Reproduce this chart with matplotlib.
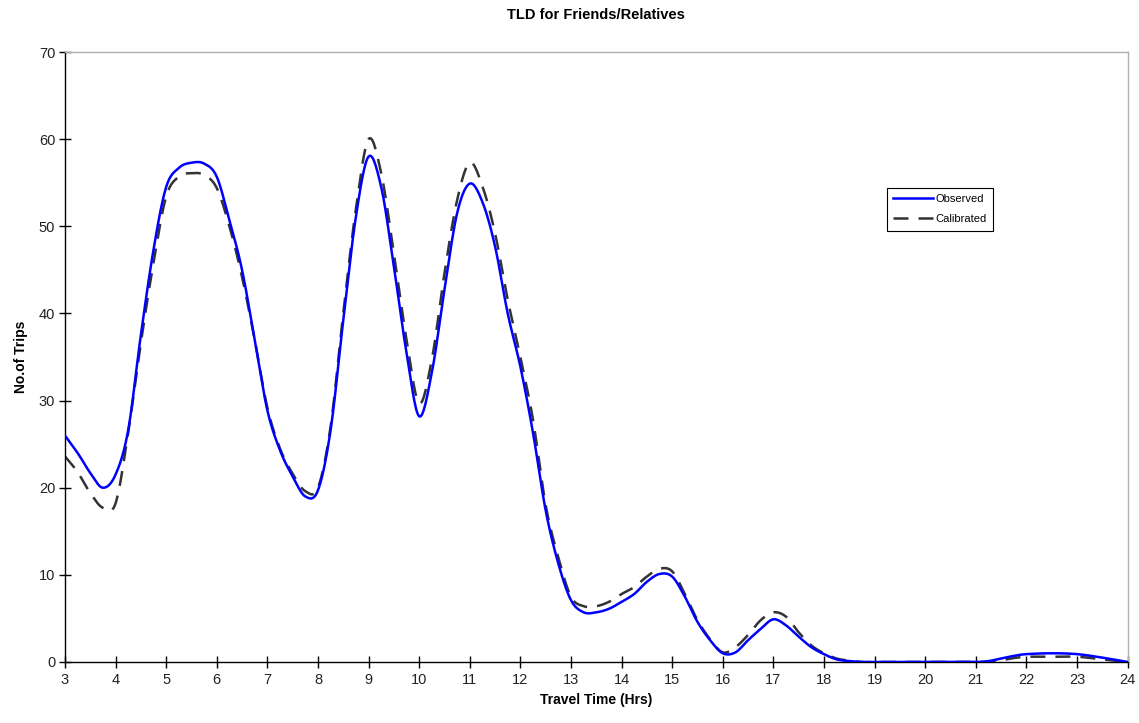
import numpy as np
import matplotlib
matplotlib.use("Agg")
import matplotlib.pyplot as plt

plt.rcParams['font.family'] = ['Liberation Sans', 'DejaVu Sans']

hours = [3.0, 3.25, 3.5, 3.75, 4.0, 4.25, 4.5, 4.75, 5.0, 5.25, 5.5, 5.75,
         6.0, 6.25, 6.5, 6.75, 7.0, 7.25, 7.5, 7.75, 8.0, 8.25, 8.5, 8.75,
         9.0, 9.25, 9.5, 9.75, 10.0, 10.25, 10.5, 10.75, 11.0, 11.25, 11.5, 11.75,
         12.0, 12.25, 12.5, 12.75, 13.0, 13.25, 13.5, 13.75, 14.0, 14.25, 14.5, 14.75,
         15.0, 15.25, 15.5, 15.75, 16.0, 16.25, 16.5, 16.75, 17.0, 17.25, 17.5, 17.75,
         18.0, 18.25, 18.5, 18.75, 19.0, 19.5, 20.0, 20.5, 21.0, 21.25, 21.5, 21.75,
         22.0, 22.5, 23.0, 23.5, 24.0]

observed = [26.0, 24.0, 21.7, 20.0, 21.5, 26.6, 37.5, 47.3, 54.5, 56.7, 57.3, 57.2,
            55.7, 50.7, 45.0, 37.0, 28.9, 24.3, 21.3, 19.0, 19.7, 26.6, 39.2, 51.1,
            58.0, 54.5, 45.4, 35.5, 28.2, 33.2, 42.7, 51.5, 54.9, 52.8, 47.7, 40.0,
            33.9, 26.3, 17.4, 11.3, 7.1, 5.7, 5.7, 6.1, 6.9, 7.8, 9.2, 10.1,
            9.8, 7.5, 4.6, 2.5, 1.0, 1.1, 2.5, 3.8, 4.9, 4.2, 2.9, 1.7,
            0.9, 0.3, 0.1, 0.0, 0.0, 0.0, 0.0, 0.0, 0.0, 0.1, 0.4, 0.7,
            0.9, 1.0, 0.9, 0.5, 0.0]

calibrated = [23.6, 21.8, 19.4, 17.7, 18.2, 26.3, 36.6, 45.8, 53.4, 55.7, 56.1, 55.9,
              54.4, 50.0, 44.2, 37.0, 29.2, 24.5, 21.6, 19.6, 20.0, 27.0, 40.0, 52.0,
              60.0, 56.1, 46.9, 37.0, 29.7, 34.7, 44.6, 53.0, 57.3, 54.6, 49.2, 41.6,
              35.0, 27.8, 18.0, 12.0, 7.5, 6.4, 6.4, 6.9, 7.8, 8.6, 9.8, 10.7,
              10.4, 7.8, 4.8, 2.6, 1.1, 1.7, 3.1, 4.8, 5.7, 5.2, 3.4, 1.9,
              1.0, 0.4, 0.15, 0.0, 0.0, 0.0, 0.0, 0.0, 0.0, 0.05, 0.2, 0.45,
              0.6, 0.6, 0.6, 0.3, 0.0]

x_ticks = list(range(3, 25))
y_ticks = [0, 10, 20, 30, 40, 50, 60, 70]


def smooth_curve(xs, ys, n=16):
    """Excel-style smoothed line: Catmull-Rom spline through the data points."""
    p = np.column_stack([xs, ys]).astype(float)
    p = np.vstack([p[0], p, p[-1]])
    out = []
    t = np.linspace(0, 1, n, endpoint=False)[:, None]
    for i in range(1, len(p) - 2):
        p0, p1, p2, p3 = p[i - 1], p[i], p[i + 1], p[i + 2]
        seg = 0.5 * ((2 * p1) + (-p0 + p2) * t + (2 * p0 - 5 * p1 + 4 * p2 - p3) * t ** 2
                     + (-p0 + 3 * p1 - 3 * p2 + p3) * t ** 3)
        out.append(seg)
    out.append(p[-2][None, :])
    out = np.vstack(out)
    return out[:, 0], out[:, 1]


fig = plt.figure(figsize=(11.39, 7.23), dpi=100)
ax = fig.add_axes([0.057, 0.0844, 0.933, 0.8436])

ox, oy = smooth_curve(hours, observed)
cx, cy = smooth_curve(hours, calibrated)
ax.plot(ox, oy, color='#0000ff', lw=1.8, label='Observed', zorder=3)
ax.plot(cx, cy, color='#333333', lw=1.8, dashes=(6, 4), label='Calibrated', zorder=2)

ax.set_xlim(3, 24)
ax.set_ylim(0, 70)
ax.set_xticks(x_ticks)
ax.set_yticks(y_ticks)
ax.tick_params(direction='inout', length=8, width=1, labelsize=10.5, colors='black')
ax.tick_params(axis='x', pad=4)
ax.tick_params(axis='y', pad=3)
for lbl in ax.get_xticklabels() + ax.get_yticklabels():
    lbl.set_color('#222222')

for s in ['left', 'bottom']:
    ax.spines[s].set_color('black')
    ax.spines[s].set_linewidth(1)
for s in ['top', 'right']:
    ax.spines[s].set_color('#b0b0b0')
    ax.spines[s].set_linewidth(1)

ax.set_title('TLD for Friends/Relatives', fontsize=10.5, fontweight='bold', pad=24)
ax.set_xlabel('Travel Time (Hrs)', fontsize=10, fontweight='bold', labelpad=4)
ax.set_ylabel('No.of Trips', fontsize=10, fontweight='bold', labelpad=8)

leg = ax.legend(loc='upper left', bbox_to_anchor=(0.768, 0.787), fontsize=8,
                frameon=True, fancybox=False, framealpha=1, edgecolor='black',
                handlelength=3.6, borderpad=0.6, labelspacing=0.9, handletextpad=0.2)
leg.get_frame().set_linewidth(0.8)

fig.savefig('out.png', dpi=100)
